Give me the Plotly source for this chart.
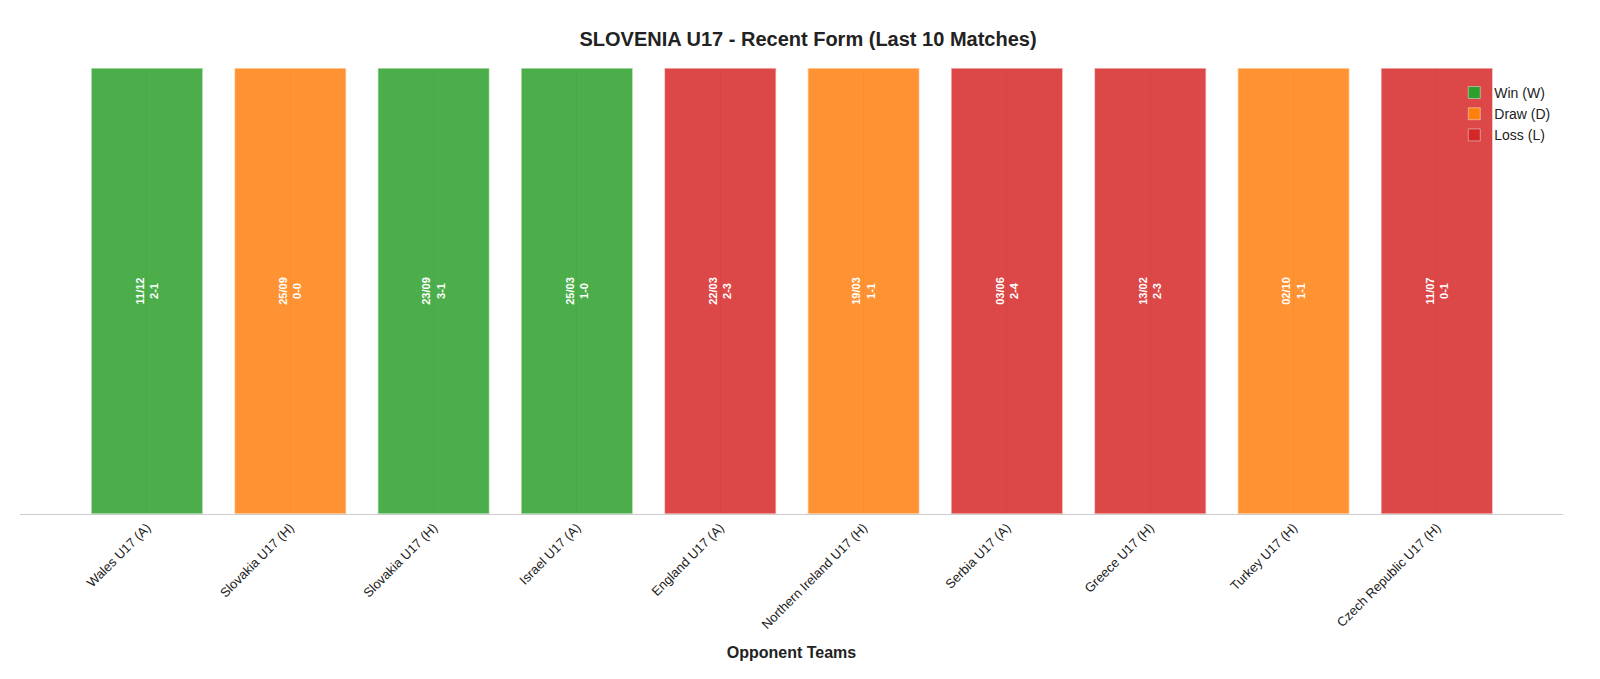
import plotly.graph_objects as go

opponents = ['Wales U17 (A)', 'Slovakia U17 (H)', 'Slovakia U17 (H)', 'Israel U17 (A)',
             'England U17 (A)', 'Northern Ireland U17 (H)', 'Serbia U17 (A)', 'Greece U17 (H)',
             'Turkey U17 (H)', 'Czech Republic U17 (H)']
dates = ['11/12', '25/09', '23/09', '25/03', '22/03', '19/03', '03/06', '13/02', '02/10', '11/07']
scores = ['2-1', '0-0', '3-1', '1-0', '2-3', '1-1', '2-4', '2-3', '1-1', '0-1']
results = ['W', 'D', 'W', 'W', 'L', 'D', 'L', 'L', 'D', 'L']

colors = {'W': 'rgba(44,160,44,0.85)', 'D': 'rgba(255,127,14,0.85)', 'L': 'rgba(214,39,40,0.85)'}
solid = {'W': '#2ca02c', 'D': '#ff7f0e', 'L': '#d62728'}
names = {'W': 'Win (W)', 'D': 'Draw (D)', 'L': 'Loss (L)'}

xs = list(range(len(opponents)))

fig = go.Figure()
fig.add_trace(go.Bar(
    x=xs, y=[1] * len(xs), width=0.78,
    marker=dict(color=[colors[r] for r in results], line=dict(color='rgba(255,255,255,0.6)', width=1.5)),
    text=[f'<b>{d}<br>{s}</b>' for d, s in zip(dates, scores)],
    textposition='inside', insidetextanchor='middle', textangle=-90,
    textfont=dict(color='white', size=11, family='Arial, Liberation Sans'),
    showlegend=False, hoverinfo='skip'))
for r in ['W', 'D', 'L']:
    fig.add_trace(go.Bar(x=[None], y=[None], name=names[r], marker_color=solid[r]))

fig.update_layout(
    barmode='overlay',
    width=1600, height=679,
    paper_bgcolor='white', plot_bgcolor='white',
    font=dict(family='Arial, Liberation Sans', color='#222'),
    title=dict(text='<b>SLOVENIA U17 - Recent Form (Last 10 Matches)</b>', x=0.5, y=0.965,
               font=dict(size=20)),
    margin=dict(l=12, r=45, t=60, b=173),
    legend=dict(x=0.995, y=0.98, xanchor='right', yanchor='top', font=dict(size=14),
                bgcolor='rgba(255,255,255,0)'),
    xaxis=dict(tickmode='array', tickvals=xs, ticktext=opponents, tickangle=-45,
               range=[-0.886, len(xs) - 0.12], showgrid=True, gridcolor='rgba(180,180,180,0.45)',
               showline=True, linecolor='#ccc', tickfont=dict(size=13),
               title=dict(text='<b>Opponent Teams</b>', font=dict(size=16))),
    yaxis=dict(visible=False, range=[0, 1]),
)
fig.write_html('out.html')
